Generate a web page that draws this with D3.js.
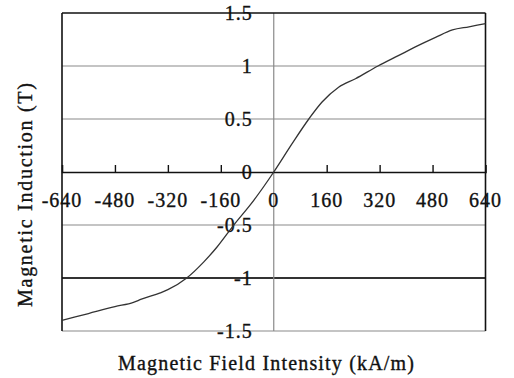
<!DOCTYPE html>
<html><head><meta charset="utf-8">
<script src="https://cdn.jsdelivr.net/npm/d3@7"></script>
<style>
body{margin:0;background:#fff;}
text{font-family:"Liberation Serif","Times New Roman",serif;fill:#111;stroke:#111;stroke-width:0.35px;}
</style></head>
<body>
<svg id="chart" width="514" height="378"></svg>
<script>
// Data
const fieldH = [-640,-560,-480,-424,-400,-343,-320,-263,-212,-172,-122,-61,0,56,106,146,196,247,315,378,428,489,540,590,640];
const inductionB = [-1.40,-1.335,-1.27,-1.23,-1.20,-1.14,-1.11,-1.0,-0.85,-0.71,-0.505,-0.27,0,0.27,0.50,0.66,0.80,0.88,1.0,1.10,1.18,1.27,1.34,1.37,1.40];
const xTicks = [-640,-480,-320,-160,0,160,320,480,640];
const yTicks = [-1.5,-1,-0.5,0,0.5,1,1.5];
const xTitle = "Magnetic Field Intensity (kA/m)";
const yTitle = "Magnetic Induction (T)";

const svg = d3.select("#chart");
const x = d3.scaleLinear().domain([-640,640]).range([62,485.5]);
const y = d3.scaleLinear().domain([-1.5,1.5]).range([331,13]);

// horizontal gridlines
svg.append("g").selectAll("line").data(yTicks.filter(v=>v!==0 && v!==1.5)).join("line")
  .attr("x1",x(-640)).attr("x2",x(640))
  .attr("y1",d=>y(d)).attr("y2",d=>y(d))
  .attr("stroke",d=>d===-1?"#333":"#8a8a8a")
  .attr("stroke-width",d=>d===-1?2:1.2);

// vertical zero line
svg.append("line").attr("x1",x(0)).attr("x2",x(0)).attr("y1",y(1.5)).attr("y2",y(-1.5))
  .attr("stroke","#8a8a8a").attr("stroke-width",1.2);

// borders
svg.append("line").attr("x1",x(-640)).attr("x2",x(640)).attr("y1",y(1.5)).attr("y2",y(1.5))
  .attr("stroke","#111").attr("stroke-width",1.6);
svg.append("line").attr("x1",x(-640)).attr("x2",x(-640)).attr("y1",y(1.5)).attr("y2",y(-1.5))
  .attr("stroke","#111").attr("stroke-width",1.6);
svg.append("line").attr("x1",x(640)).attr("x2",x(640)).attr("y1",y(1.5)).attr("y2",y(-1.5))
  .attr("stroke","#111").attr("stroke-width",1.6);

// x axis on zero line with ticks pointing up
const xAxis = d3.axisTop(x).tickValues(xTicks.filter(v=>v!==0 && Math.abs(v)!==640)).tickSize(7).tickFormat("");
const gx = svg.append("g").attr("transform",`translate(0,${y(0)})`).call(xAxis);
gx.select(".domain").attr("stroke","#111").attr("stroke-width",1.6);
gx.selectAll(".tick line").attr("stroke","#111").attr("stroke-width",1.4);

// x tick labels
svg.append("g").selectAll("text").data(xTicks).join("text")
  .attr("x",d=>x(d)).attr("y",y(0)+35)
  .attr("text-anchor","middle").attr("font-size",20).attr("letter-spacing",1)
  .text(d=>String(d));

// y tick labels
svg.append("g").selectAll("text").data(yTicks).join("text")
  .attr("x",x(0)-21).attr("y",d=>y(d)+7)
  .attr("text-anchor","end").attr("font-size",20).attr("letter-spacing",1)
  .text(d=>String(d));

// curve
const line = d3.line().x((d,i)=>x(fieldH[i])).y((d,i)=>y(inductionB[i])).curve(d3.curveMonotoneX);
svg.append("path").datum(inductionB).attr("d",line)
  .attr("fill","none").attr("stroke","#333").attr("stroke-width",1.3);

// titles
svg.append("text").attr("x",266).attr("y",370).attr("text-anchor","middle")
  .attr("font-size",20).attr("textLength",296).attr("lengthAdjust","spacing").text(xTitle);
svg.append("text").attr("transform","translate(32,195) rotate(-90)").attr("text-anchor","middle")
  .attr("font-size",20).attr("textLength",224).attr("lengthAdjust","spacing").text(yTitle);
</script>
</body></html>
